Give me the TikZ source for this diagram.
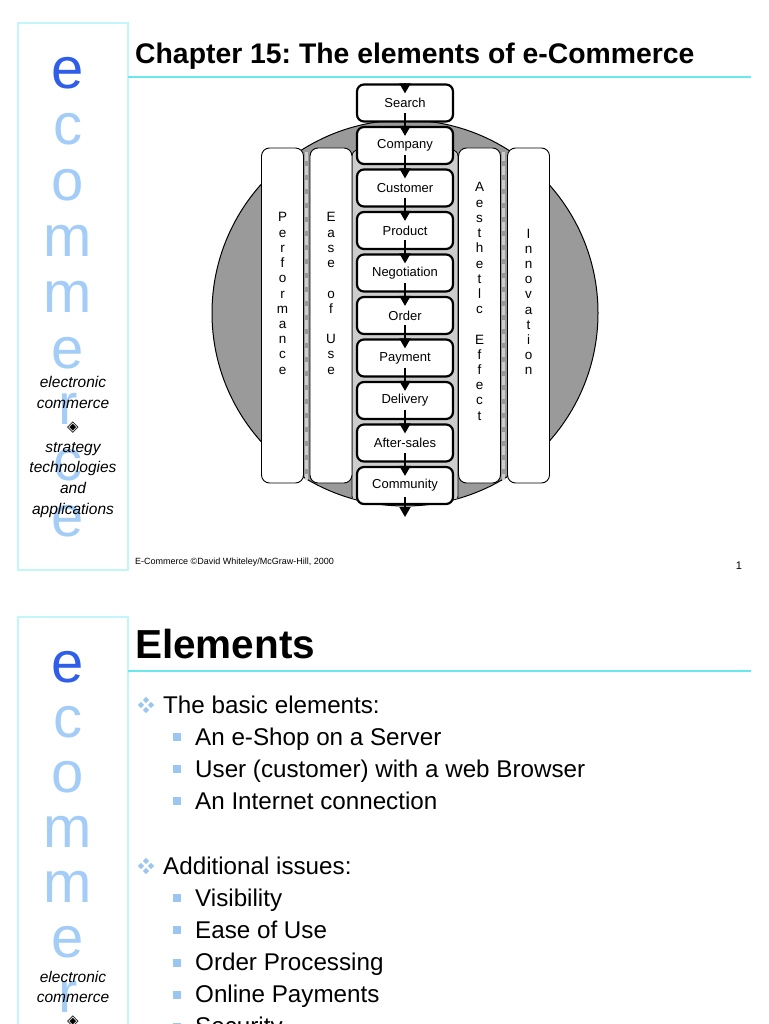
\documentclass[tikz,border=0pt]{standalone}
\usepackage{fontspec}
\setmainfont{Liberation Sans}
\newfontfamily\djv{DejaVu Sans}
\usetikzlibrary{arrows.meta}
\frenchspacing
\definecolor{cyanline}{HTML}{6AE8F0}
\definecolor{cyanbox}{HTML}{C2F6FA}
\definecolor{darkblue}{HTML}{2F5FE8}
\definecolor{lightblue}{HTML}{A3CDF7}
\definecolor{bulletblue}{HTML}{9CC6F2}
\definecolor{circgray}{HTML}{9A9A9A}
\definecolor{stripgray}{HTML}{CDCDCD}
\begin{document}
\frenchspacing
\begin{tikzpicture}[x=1pt,y=-1pt,
  sidebox/.style={draw=cyanbox, line width=2.5pt},
  bigl/.style={font=\fontsize{58}{58}\selectfont, text=lightblue, inner sep=0pt, anchor=center},
  sideit/.style={font=\fontsize{15.5}{15.5}\selectfont\itshape, anchor=base, inner sep=0pt},
  sidedia/.style={font=\djv\fontsize{15}{15}\selectfont, anchor=center, inner sep=0pt},
  pbox/.style={draw, line width=2.2pt, rounded corners=7pt, fill=white, minimum width=96pt, minimum height=37pt, inner sep=0pt, font=\fontsize{13}{13}\selectfont},
  colbox/.style={draw, line width=0.9pt, rounded corners=8pt, fill=white, minimum width=42pt, minimum height=335pt, inner sep=0pt},
  colch/.style={font=\fontsize{13.5}{13.5}\selectfont, anchor=base, inner sep=0pt},
  flow/.style={line width=1.8pt, -{Triangle[width=11pt,length=10pt]}},
  lvlone/.style={font=\fontsize{24.2}{24.2}\selectfont, anchor=base west, inner sep=0pt},
  quad/.pic={\foreach \dx/\dy in {-5/0,5/0,0/-5,0/5} \fill[bulletblue] (\dx-3.2,\dy) -- (\dx,\dy-3.2) -- (\dx+3.2,\dy) -- (\dx,\dy+3.2) -- cycle;},
]
\useasboundingbox[fill=white] (0,0) rectangle (768,1024);

% ================= Slide 1 =================
\draw[sidebox] (18,23) rectangle (128,570);
\node[bigl, text=darkblue] (s1l0) at (68,73) {e};
\foreach \ch [count=\i] in {c,o,m,m,e,r,c,e}
  \node[bigl] (s1l\i) at (68,73+56*\i) {\ch};
\node[sideit] (s1a) at (73,387) {electronic};
\node[sideit] (s1b) at (73,408) {commerce};
\node[sidedia] (s1c) at (73,428) {◈};
\node[sideit] (s1d) at (73,452) {strategy};
\node[sideit] (s1e) at (73,472) {technologies};
\node[sideit] (s1f) at (73,493) {and};
\node[sideit] (s1g) at (73,514) {applications};

\node[anchor=base west, inner sep=0pt, font=\bfseries\fontsize{28.35}{28.35}\selectfont] (t1) at (135,64) {Chapter 15: The elements of e-Commerce};
\draw[cyanline, line width=2pt] (128,77) -- (751,77);

% disc
\node[circle, draw, line width=1pt, fill=circgray, minimum size=386pt, inner sep=0pt] (disc) at (405,313) {};
\begin{scope}
  \clip (405,313) circle[radius=192.5pt];
  \draw[fill=stripgray, line width=0.8pt, rounded corners=6pt] (352,150) rectangle (458,502);
\end{scope}
\draw[stripgray, line width=3pt, dash pattern=on 9pt off 5pt] (306.5,152) -- (306.5,480);
\draw[stripgray, line width=3pt, dash pattern=on 9pt off 5pt] (503.5,152) -- (503.5,480);

% columns
\node[colbox] (cperf) at (282.5,315.5) {};
\node[colbox] (cease) at (331,315.5) {};
\node[colbox] (caest) at (479.5,315.5) {};
\node[colbox] (cinno) at (528.5,315.5) {};
\foreach \ch [count=\i from 0] in {P,e,r,f,o,r,m,a,n,c,e}
  \node[colch] (pf\i) at (282.5,222+15.2*\i) {\ch};
\foreach \ch [count=\i from 0] in {E,a,s,e,{},o,f,{},U,s,e}
  \node[colch] (eu\i) at (331,222+15.2*\i) {\ch};
\foreach \ch [count=\i from 0] in {A,e,s,t,h,e,t,l,c,{},E,f,f,e,c,t}
  \node[colch] (ae\i) at (479.5,192+15.2*\i) {\ch};
\foreach \ch [count=\i from 0] in {I,n,n,o,v,a,t,i,o,n}
  \node[colch] (in\i) at (528.5,238+15.2*\i) {\ch};

% process chain
\foreach \t [count=\i] in {Search,Company,Customer,Product,Negotiation,Order,Payment,Delivery,After-sales,Community}
  \node[pbox] (b\i) at (405,103+42.5*\i-42.5) {\t};
\coordinate (topin) at (405,83);
\coordinate (botout) at (405,517);
\draw[flow] (topin) -- ([yshift=-10pt]b1.north);
\foreach \i [evaluate=\i as \j using int(\i+1)] in {1,...,9}
  \draw[flow] ([yshift=10pt]b\i.south) -- ([yshift=-10pt]b\j.north);
\draw[flow] ([yshift=8pt]b10.south) -- (botout);

\node[anchor=base west, inner sep=0pt, font=\fontsize{9}{9}\selectfont] (foot1) at (135,564) {E-Commerce ©David Whiteley/McGraw-Hill, 2000};
\node[anchor=base, inner sep=0pt, font=\fontsize{11}{11}\selectfont] (pg1) at (739,569) {1};

% ================= Slide 2 =================
\draw[sidebox] (18,617) rectangle (128,1040);
\node[bigl, text=darkblue] (s2l0) at (68,667) {e};
\foreach \ch [count=\i] in {c,o,m,m,e,r}
  \node[bigl] (s2l\i) at (68,667+55*\i) {\ch};
\node[sideit] (s2a) at (73,982) {electronic};
\node[sideit] (s2b) at (73,1002) {commerce};
\node[sidedia] (s2c) at (73,1022) {◈};

\node[anchor=base west, inner sep=0pt, font=\bfseries\fontsize{40.5}{40.5}\selectfont] (t2) at (135,658) {Elements};
\draw[cyanline, line width=2pt] (128,671) -- (751,671);

\pic at (146,705) {quad};
\node[lvlone] (l1a) at (163,713) {The basic elements:};
\pic at (146,866) {quad};
\node[lvlone] (l1b) at (163,874) {Additional issues:};

\foreach \t/\y [count=\i] in {An e-Shop on a Server/745, User (customer) with a web Browser/777, An Internet connection/809, Visibility/906, Ease of Use/938, Order Processing/970.5, Online Payments/1002.5, Security/1034.5}{
  \fill[bulletblue] (173,\y-12) rectangle (181,\y-4);
  \node[lvlone] (l2\i) at (195,\y) {\t};
}
\end{tikzpicture}
\end{document}
